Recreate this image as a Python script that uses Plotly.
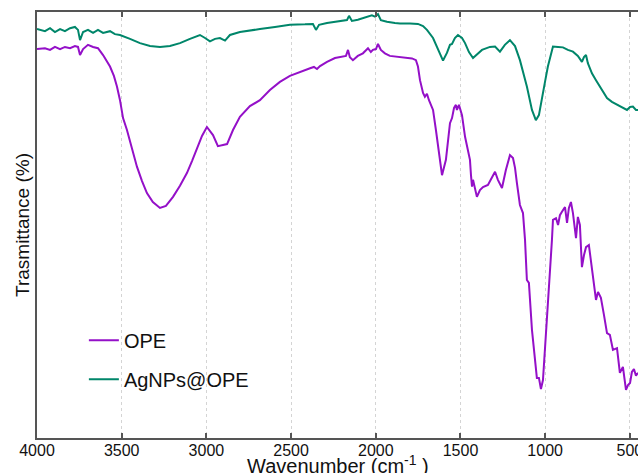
import plotly.graph_objects as go

# Wavenumber (cm^-1) and transmittance (%, arbitrary scale)
ope_wn = [4000, 3953, 3923, 3894, 3864, 3835, 3805, 3776, 3758, 3746, 3728, 3699, 3669, 3640, 3610,
          3593, 3569, 3546, 3528, 3510, 3492, 3469, 3439, 3410, 3380, 3351, 3316, 3274, 3239, 3197,
          3156, 3115, 3085, 3056, 3026, 2997, 2961, 2932, 2908, 2878, 2843, 2802, 2743, 2684, 2625,
          2566, 2507, 2465, 2418, 2388, 2365, 2347, 2329, 2288, 2241, 2211, 2176, 2164, 2153, 2135,
          2106, 2076, 2046, 2029, 2017, 1999, 1987, 1970, 1946, 1917, 1875, 1828, 1786, 1763, 1751,
          1739, 1727, 1721, 1710, 1698, 1686, 1662, 1645, 1627, 1609, 1586, 1562, 1550, 1538, 1527,
          1521, 1509, 1491, 1473, 1456, 1444, 1438, 1432, 1426, 1414, 1403, 1385, 1367, 1338, 1326,
          1314, 1296, 1279, 1255, 1232, 1208, 1190, 1178, 1167, 1149, 1131, 1119, 1108, 1096, 1078,
          1061, 1049, 1037, 1025, 1013, 1001, 984, 972, 960, 954, 936, 924, 913, 901, 883,
          871, 860, 848, 836, 818, 807, 795, 783, 771, 759, 742, 730, 718, 700, 688,
          671, 653, 635, 618, 600, 576, 559, 541, 523, 511, 499, 488, 476, 464, 452]
ope_t = [91.3, 91.5, 91.1, 91.8, 91.3, 91.8, 91.5, 92.0, 91.8, 89.9, 91.3, 92.3, 91.8, 91.5, 89.9,
         88.7, 87.2, 85.0, 82.5, 79.3, 75.1, 72.3, 67.6, 63.7, 60.3, 57.5, 55.4, 54.0, 54.5, 56.6,
         59.2, 62.2, 65.0, 68.1, 70.9, 73.0, 71.1, 68.5, 68.8, 69.0, 72.3, 75.4, 77.9, 79.3, 81.7,
         83.6, 85.0, 85.7, 86.4, 86.8, 87.1, 86.6, 87.3, 88.3, 89.2, 89.5, 89.7, 91.1, 89.4, 88.7,
         89.7, 90.3, 91.5, 90.6, 91.1, 91.3, 92.5, 91.1, 90.3, 89.7, 89.5, 89.4, 89.1, 88.7, 87.2,
         84.0, 82.2, 81.0, 80.1, 80.8, 79.3, 77.0, 72.3, 66.4, 61.7, 65.3, 73.9, 75.1, 77.5, 78.2,
         77.0, 78.2, 75.8, 70.7, 67.6, 65.3, 61.7, 59.0, 60.6, 58.2, 56.6, 58.2, 58.9, 59.4, 60.2,
         61.0, 62.5, 60.6, 58.7, 62.9, 66.4, 65.7, 63.4, 59.9, 54.7, 52.8, 46.5, 37.1, 36.4, 25.4,
         18.3, 14.1, 14.1, 11.5, 13.6, 20.7, 30.0, 37.1, 46.5, 51.2, 51.6, 50.0, 52.3, 53.1, 54.2,
         50.5, 54.0, 55.4, 52.8, 46.9, 51.9, 50.0, 40.1, 42.9, 44.8, 45.3, 41.8, 37.1, 32.4, 34.3,
         32.9, 28.9, 24.6, 24.2, 20.7, 21.1, 15.3, 16.7, 11.3, 12.4, 12.9, 15.5, 16.2, 14.6, 15.3]

ag_wn = [4000, 3953, 3923, 3894, 3864, 3835, 3805, 3776, 3758, 3746, 3728, 3699, 3669, 3640, 3610,
         3569, 3540, 3510, 3451, 3392, 3333, 3274, 3215, 3156, 3097, 3038, 3008, 2979, 2949, 2920,
         2890, 2861, 2802, 2743, 2684, 2595, 2507, 2418, 2371, 2353, 2335, 2288, 2229, 2170, 2158,
         2141, 2106, 2076, 2046, 2023, 2005, 1987, 1970, 1934, 1887, 1857, 1798, 1751, 1721, 1698,
         1662, 1633, 1603, 1580, 1562, 1550, 1533, 1515, 1491, 1473, 1450, 1426, 1403, 1373, 1326,
         1296, 1267, 1238, 1208, 1178, 1149, 1125, 1108, 1078, 1055, 1037, 1019, 1001, 984, 954,
         924, 895, 866, 836, 807, 783, 771, 759, 748, 724, 700, 677, 653, 635, 606,
         576, 547, 517, 499, 482, 464, 452]
ag_t = [96.0, 95.5, 96.2, 95.3, 96.0, 95.5, 96.2, 96.5, 95.8, 93.4, 95.3, 95.8, 95.1, 95.8, 95.1,
        95.5, 94.8, 94.6, 93.7, 92.7, 92.0, 91.8, 92.0, 92.7, 93.7, 94.6, 93.9, 93.1, 93.7, 93.9,
        93.3, 94.6, 95.3, 95.7, 96.0, 96.5, 97.0, 97.1, 97.2, 95.8, 97.0, 97.4, 97.8, 98.1, 99.1,
        97.9, 98.2, 98.5, 98.8, 99.2, 98.9, 99.5, 98.1, 97.7, 97.4, 97.3, 97.3, 97.2, 96.7, 95.8,
        93.9, 91.1, 88.6, 90.4, 92.3, 92.5, 93.9, 94.6, 93.9, 92.7, 90.6, 89.2, 90.1, 91.1, 91.8,
        91.9, 90.7, 92.3, 93.4, 92.0, 88.7, 85.2, 82.5, 77.0, 74.6, 75.8, 79.3, 83.6, 87.2, 91.9,
        91.8, 91.7, 91.1, 90.7, 89.7, 88.3, 89.4, 89.9, 88.0, 85.6, 84.0, 82.5, 80.8, 79.8, 78.9,
        78.2, 77.5, 77.0, 77.7, 77.8, 77.0, 77.0]

x_ticks = [4000, 3500, 3000, 2500, 2000, 1500, 1000, 500]
x_ticklabels = ["4000", "3500", "3000", "2500", "2000", "1500", "1000", "500"]

FONT = "Liberation Sans, Arial, sans-serif"

fig = go.Figure()
fig.add_trace(go.Scatter(x=ope_wn, y=ope_t, mode="lines", name="OPE",
                         line=dict(color="#9410C8", width=2), legendgroup="a"))
fig.add_trace(go.Scatter(x=ag_wn, y=ag_t, mode="lines", name="AgNPs@OPE",
                         line=dict(color="#00866A", width=2), legendgroup="b"))

fig.update_layout(
    width=638, height=473,
    margin=dict(l=37, r=0, t=12, b=35, autoexpand=False),
    paper_bgcolor="white", plot_bgcolor="white",
    font=dict(family=FONT, color="#222222"),
    showlegend=True,
    legend=dict(x=0.078, y=0.275, xanchor="left", yanchor="top",
                font=dict(size=20, family=FONT, color="#111111"),
                bgcolor="rgba(0,0,0,0)", tracegroupgap=10),
    xaxis=dict(range=[4000, 452], tickmode="array", tickvals=x_ticks, ticktext=x_ticklabels,
               automargin=False,
               showline=True, linecolor="#555555", linewidth=2, mirror="ticks",
               ticks="inside", ticklen=5, tickwidth=1.5, tickcolor="#555555",
               ticklabelstandoff=-3, ticklabeloverflow="allow",
               showgrid=True, gridcolor="#d4d4d4", griddash="dot", gridwidth=1,
               tickfont=dict(size=16, family=FONT, color="#111111"), zeroline=False),
    yaxis=dict(range=[0, 100], showticklabels=False, ticks="", showgrid=False, automargin=False,
               showline=True, linecolor="#555555", linewidth=2, mirror=False, zeroline=False),
    annotations=[
        dict(text="Wavenumber (cm<sup>-1</sup> )", x=0.5, y=-0.028, xref="paper", yref="paper",
             xanchor="center", yanchor="top", showarrow=False,
             font=dict(size=20, family=FONT, color="#111111")),
        dict(text="Trasmittance (%)", x=-0.025, y=0.5, xref="paper", yref="paper",
             xanchor="center", yanchor="middle", textangle=-90, showarrow=False,
             font=dict(size=19, family=FONT, color="#111111")),
    ],
)

fig.write_html("out.html", config={"displayModeBar": False},
               post_script="document.body.style.margin='0';document.body.style.overflow='hidden';")
